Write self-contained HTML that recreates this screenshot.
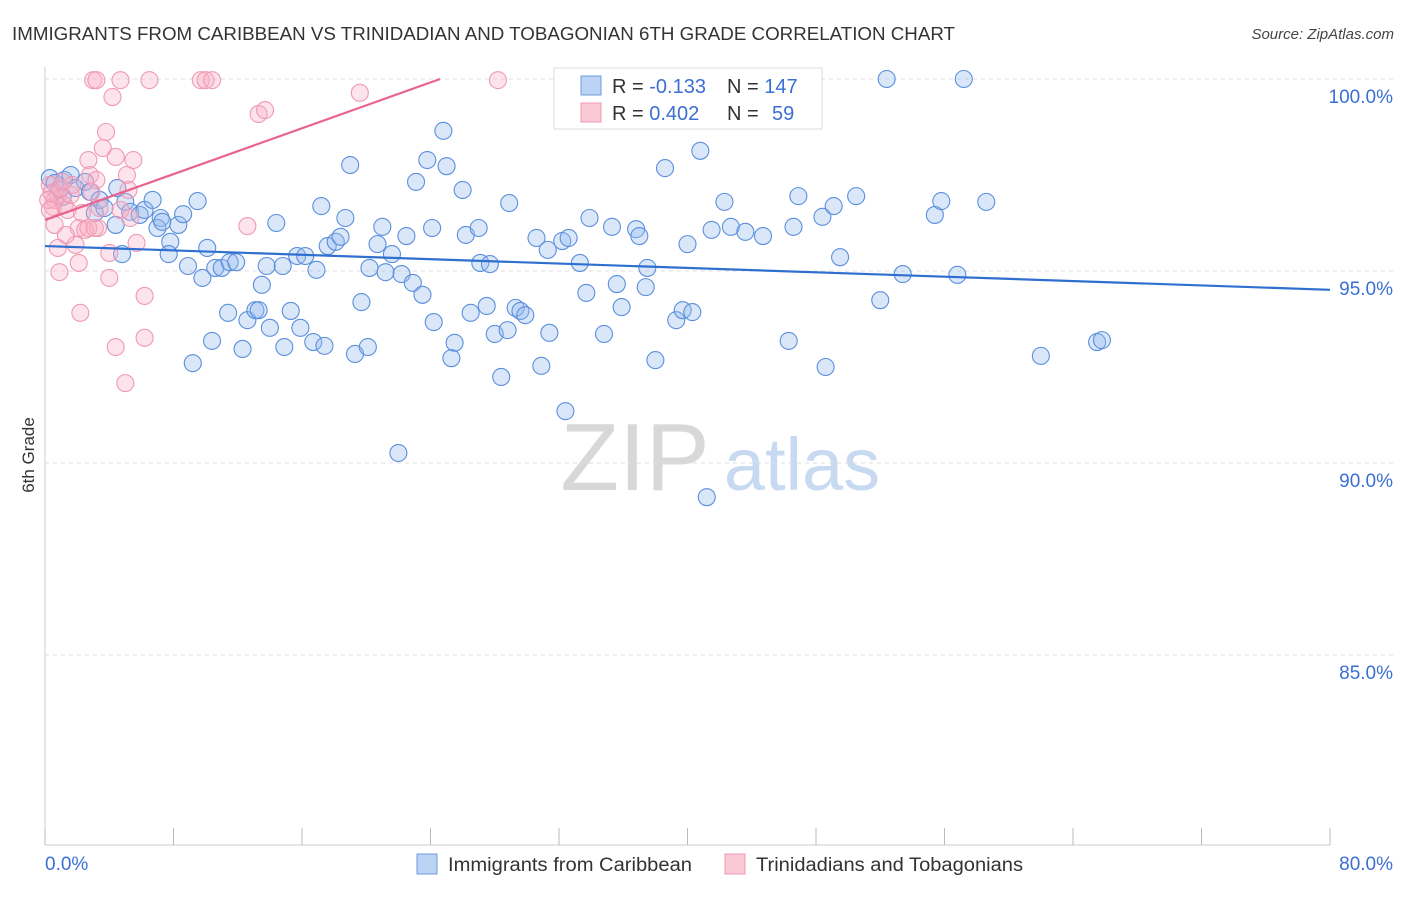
<!DOCTYPE html>
<html><head><meta charset="utf-8"><style>
body{margin:0;background:#fff;font-family:"Liberation Sans",sans-serif}
svg text{font-family:"Liberation Sans",sans-serif}
</style></head><body>
<svg id="chart" width="1406" height="892" viewBox="0 0 1406 892" xmlns="http://www.w3.org/2000/svg">
<text x="12" y="40" font-size="18" fill="#333" textLength="943" lengthAdjust="spacingAndGlyphs">IMMIGRANTS FROM CARIBBEAN VS TRINIDADIAN AND TOBAGONIAN 6TH GRADE CORRELATION CHART</text>
<text x="1394" y="39" font-size="15" fill="#444" text-anchor="end" font-style="italic">Source: ZipAtlas.com</text>
<g>
<text x="635" y="490" font-size="96" fill="#d8d8d8" text-anchor="middle" font-family="Liberation Serif">ZIP</text>
<text x="802" y="490" font-size="74" fill="#c8daf2" text-anchor="middle">atlas</text>
</g>
<g id="grid"></g>
<line x1="45" y1="67" x2="45" y2="845" stroke="#ccc"/>
<line x1="45" y1="845" x2="1330" y2="845" stroke="#ccc"/>
<g id="xticks"></g>
<text transform="translate(34,455) rotate(-90)" font-size="17" fill="#333" text-anchor="middle">6th Grade</text>
<text x="45" y="870" font-size="19" fill="#3b6fd4">0.0%</text>
<text x="1393" y="870" font-size="19" fill="#3b6fd4" text-anchor="end">80.0%</text>
<g id="pts"></g>
<g id="trends"></g>
<g>
<rect x="554" y="68" width="268" height="61" fill="#fff" stroke="#ddd"/>
<rect x="581" y="76" width="20" height="19" fill="#bcd3f5" stroke="#6d9be0"/>
<rect x="581" y="103" width="20" height="19" fill="#fbc8d6" stroke="#ee9ab3"/>
<text x="612" y="93" font-size="20" fill="#333">R = <tspan fill="#3b6fd4">-0.133</tspan><tspan x="727">N = </tspan><tspan fill="#3b6fd4">147</tspan></text>
<text x="612" y="120" font-size="20" fill="#333">R = <tspan fill="#3b6fd4">0.402</tspan><tspan x="727">N = </tspan><tspan fill="#3b6fd4" x="772">59</tspan></text>
</g>
<g>
<rect x="417" y="854" width="20" height="20" fill="#bcd3f5" stroke="#6d9be0"/>
<text x="448" y="871" font-size="19" fill="#333" textLength="244" lengthAdjust="spacingAndGlyphs">Immigrants from Caribbean</text>
</g>
<g>
<rect x="725" y="854" width="20" height="20" fill="#fbc8d6" stroke="#ee9ab3"/>
<text x="756" y="871" font-size="19" fill="#333" textLength="267" lengthAdjust="spacingAndGlyphs">Trinidadians and Tobagonians</text>
</g>
</svg>
<script>
const yTicks=[100,95,90,85];
const yTickLabels=["100.0%","95.0%","90.0%","85.0%"];
const xTicks=[0,8,16,24,32,40,48,56,64,72,80];
const blueX=[0.3,0.6,0.9,1.2,1.6,1.9,1.1,2.5,2.8,3.1,3.4,3.7,4.5,5.0,5.3,4.4,4.8,5.9,6.2,6.7,7.2,7.0,7.3,7.8,7.7,8.3,8.6,8.9,9.5,9.8,10.1,10.6,11.0,11.5,11.9,11.4,12.6,13.1,13.3,10.4,12.3,9.2,13.5,13.8,14.4,14.8,14.0,14.9,15.3,15.9,15.7,16.2,16.7,16.9,17.4,17.2,17.6,18.1,18.4,18.7,19.0,19.3,19.7,20.1,20.2,20.7,21.0,21.2,21.6,22.0,22.2,22.5,22.9,23.5,23.1,23.8,24.1,24.2,24.8,25.0,25.5,25.3,26.0,26.2,26.5,27.0,27.1,27.5,27.7,28.0,28.4,28.8,28.9,29.3,29.6,29.9,30.6,30.9,31.3,31.4,32.2,32.6,32.4,33.3,33.7,33.9,34.8,35.3,35.6,35.9,36.8,37.0,37.5,37.4,38.0,38.6,39.3,39.7,40.0,40.3,40.8,41.2,41.5,42.3,42.7,43.6,44.7,46.3,46.6,46.9,48.4,48.6,49.1,49.5,50.5,52.0,52.4,53.4,55.4,55.8,56.8,57.2,58.6,62.0,65.5,65.8];
const blueY=[97.42,97.29,97.11,97.37,97.50,97.16,96.93,97.32,97.06,96.51,96.85,96.64,97.16,96.80,96.54,96.20,95.44,96.46,96.59,96.85,96.38,96.12,96.28,95.76,95.44,96.20,96.48,95.13,96.82,94.82,95.60,95.08,95.08,95.23,95.23,93.91,93.72,93.98,93.98,93.18,92.97,92.60,94.64,95.13,96.25,95.13,93.52,93.02,93.96,93.52,95.39,95.39,93.15,95.03,93.05,96.69,95.65,95.76,95.89,96.38,97.76,92.84,94.19,93.02,95.08,95.70,96.15,94.97,95.44,90.26,94.92,95.91,94.69,94.38,97.32,97.89,96.12,93.67,98.65,97.73,93.13,92.73,97.11,95.94,93.91,96.12,95.21,94.09,95.18,93.36,92.24,93.46,96.77,94.04,93.96,93.85,95.86,92.53,95.55,93.39,95.78,95.86,91.35,95.21,94.43,96.38,93.36,96.15,94.66,94.06,96.09,95.91,95.08,94.58,92.68,97.68,93.72,93.98,95.70,93.93,98.13,89.11,96.07,96.80,96.15,96.02,95.91,93.18,96.15,96.95,96.41,92.50,96.69,95.36,96.95,94.24,100,94.92,96.46,96.82,94.90,100,96.80,92.79,93.15,93.20];
const pinkX=[0.3,0.4,0.6,0.5,0.8,0.9,0.6,0.8,0.9,1.2,1.4,1.6,1.7,1.9,2.1,2.1,2.2,2.3,2.5,2.7,2.8,2.9,3.0,3.2,3.2,3.3,3.4,3.6,3.8,4.0,4.0,4.2,4.4,4.4,4.7,4.7,5.0,5.1,5.2,5.5,5.7,6.2,6.2,6.5,9.7,10.0,10.4,12.6,13.3,13.7,19.6,28.2,0.2,0.3,1.1,1.3,2.7,3.1,5.3];
const pinkY=[97.24,97.03,96.85,96.67,96.98,97.16,96.20,95.60,94.97,96.72,96.59,96.98,97.24,95.68,96.12,95.21,93.91,96.51,96.07,97.89,97.50,97.06,99.97,99.97,97.37,96.12,96.64,98.20,98.62,95.47,94.82,99.53,97.97,93.02,99.97,96.59,92.08,97.50,97.11,97.89,95.73,94.35,93.26,99.97,99.97,99.97,99.97,96.17,99.09,99.19,99.64,99.97,96.85,96.59,97.32,95.94,96.12,96.12,96.38];
const blueTrend=[95.65,94.51];
const pinkTrendX=[0,24.6];
const pinkTrendY=[96.33,100];
const NS="http://www.w3.org/2000/svg";
const sx=v=>45+v*(1285/80);
const sy=v=>79+(100-v)*38.4;
function mk(tag,attrs,parent){const e=document.createElementNS(NS,tag);for(const k in attrs)e.setAttribute(k,attrs[k]);document.getElementById(parent).appendChild(e);return e;}
yTicks.forEach((t,i)=>{
 const l=mk('line',{x1:45,x2:1393,y1:sy(t),y2:sy(t),stroke:'#ddd','stroke-dasharray':'4,4'},'grid');
 
 
 const tx=mk('text',{x:1393,y:sy(t)+24,'font-size':19,fill:'#3b6fd4','text-anchor':'end'},'grid');
 tx.textContent=yTickLabels[i];
 
 
});
xTicks.forEach(t=>{
 const l=mk('line',{x1:sx(t),x2:sx(t),y1:828,y2:845,stroke:'#bbb'},'xticks');
 
 
});
blueX.forEach((x,i)=>{
 const c=mk('circle',{cx:sx(x),cy:sy(blueY[i]),r:8.5,fill:'rgba(150,185,238,0.35)',stroke:'#5b8fdd','stroke-width':1.1},'pts');
 
 
});
pinkX.forEach((x,i)=>{
 const c=mk('circle',{cx:sx(x),cy:sy(pinkY[i]),r:8.5,fill:'rgba(248,175,198,0.35)',stroke:'#ef9ab4','stroke-width':1.1},'pts');
 
 
});
const bl=mk('line',{x1:sx(0),y1:sy(blueTrend[0]),x2:sx(80),y2:sy(blueTrend[1]),stroke:'#2f6fd0','stroke-width':2.2},'trends');


const pl=mk('line',{x1:sx(pinkTrendX[0]),y1:sy(pinkTrendY[0]),x2:sx(pinkTrendX[1]),y2:sy(pinkTrendY[1]),stroke:'#e8648f','stroke-width':2.2},'trends');


</script>
</body></html>
